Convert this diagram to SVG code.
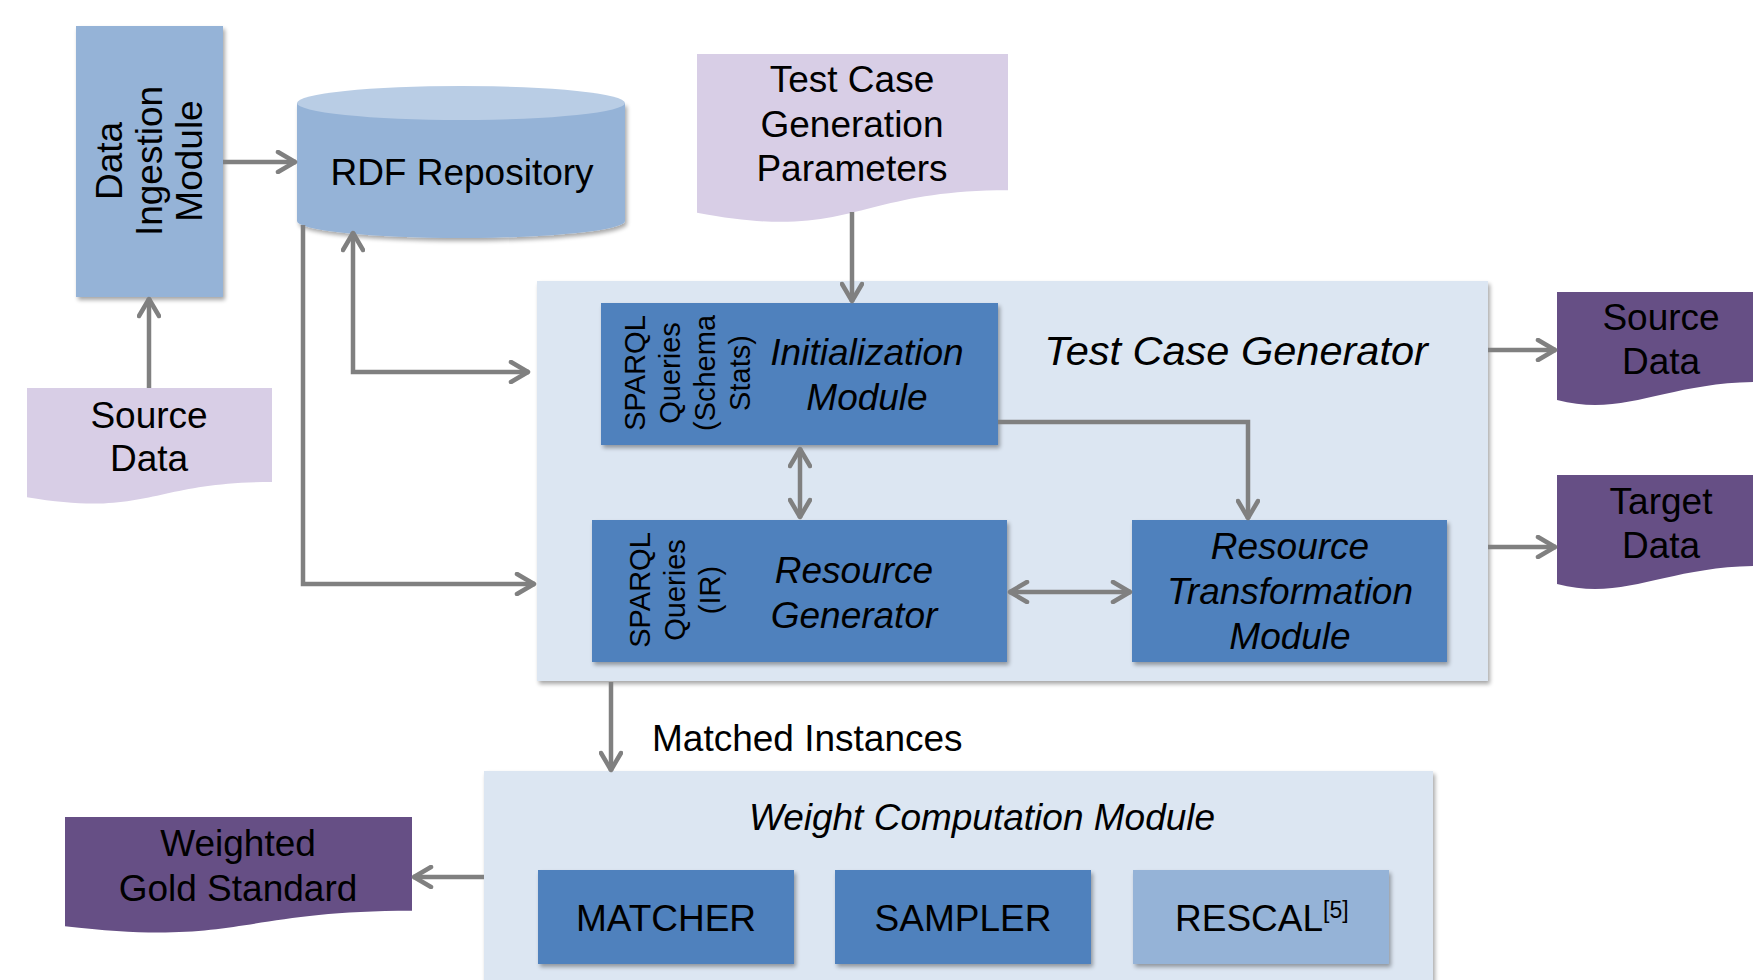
<svg xmlns="http://www.w3.org/2000/svg" width="1753" height="980" viewBox="0 0 1753 980">
  <style>
    text { font-family: "Liberation Sans", Arial, Helvetica, sans-serif; fill: #000; }
    .t37 { font-size: 37px; }
    .t29 { font-size: 29px; }
    .mid { text-anchor: middle; }
    .it { font-style: italic; }
    .lightblue { fill: #95B3D7; }
    .blue { fill: #4F81BD; }
    .panel { fill: #DCE6F2; }
    .lavender { fill: #D8CEE6; }
    .purple { fill: #664F85; }
    .conn { fill: none; stroke: #808080; stroke-width: 4.5; }
  </style>
  <defs>
    <filter id="shadow" x="-10%" y="-10%" width="125%" height="130%">
      <feGaussianBlur in="SourceAlpha" stdDeviation="2"/>
      <feOffset dx="2" dy="3" result="off"/>
      <feComponentTransfer><feFuncA type="linear" slope="0.35"/></feComponentTransfer>
      <feMerge><feMergeNode/><feMergeNode in="SourceGraphic"/></feMerge>
    </filter>
    <marker id="arr" viewBox="0 0 24 24" refX="22" refY="12" markerWidth="24" markerHeight="24" markerUnits="userSpaceOnUse" orient="auto-start-reverse">
      <path d="M4,2 L21,12 L4,22" fill="none" stroke="#808080" stroke-width="4.5" stroke-linecap="round" stroke-linejoin="round"/>
    </marker>
  </defs>

  <rect width="1753" height="980" fill="#FFFFFF"/>

  <!-- containers -->
  <g id="test-case-generator">
    <rect class="panel" x="537" y="281" width="951" height="400" filter="url(#shadow)"/>
    <text class="it mid" x="1236" y="365" font-size="41.5">Test Case Generator</text>
  </g>
  <g id="weight-computation-module">
    <rect class="panel" x="484" y="771" width="949" height="230" filter="url(#shadow)"/>
    <text class="t37 it mid" x="982" y="830">Weight Computation Module</text>
  </g>

  <!-- nodes -->
  <g id="data-ingestion-module">
    <rect class="lightblue" x="76" y="26" width="147" height="271" filter="url(#shadow)"/>
    <text class="t37 mid" transform="translate(121.5,161) rotate(-90)">Data</text>
    <text class="t37 mid" transform="translate(161.5,161) rotate(-90)">Ingestion</text>
    <text class="t37 mid" transform="translate(201.5,161) rotate(-90)">Module</text>
  </g>

  <g id="rdf-repository">
    <path class="lightblue" d="M297,103 L297,221 A164,17 0 0 0 625,221 L625,103 Z" filter="url(#shadow)"/>
    <ellipse cx="461" cy="103" rx="164" ry="17" fill="#B9CDE5"/>
    <text class="t37 mid" x="462" y="185">RDF Repository</text>
  </g>

  <g id="source-data-in">
    <path class="lavender" d="M27,388 H272 V482 C149.5,482 149.5,517.6 27,497.3 Z"/>
    <text class="t37 mid" x="149" y="428">Source</text>
    <text class="t37 mid" x="149" y="471">Data</text>
  </g>

  <g id="test-case-parameters">
    <path class="lavender" d="M697,54 H1008 V190.3 C852.5,190.3 852.5,242.3 697,212.8 Z"/>
    <text class="t37 mid" x="852" y="92">Test Case</text>
    <text class="t37 mid" x="852" y="137">Generation</text>
    <text class="t37 mid" x="852" y="181">Parameters</text>
  </g>

  <g id="initialization-module">
    <rect class="blue" x="601" y="303" width="397" height="142" filter="url(#shadow)"/>
    <text class="t29 mid" transform="translate(645,373) rotate(-90)">SPARQL</text>
    <text class="t29 mid" transform="translate(680,373) rotate(-90)">Queries</text>
    <text class="t29 mid" transform="translate(715,373) rotate(-90)">(Schema</text>
    <text class="t29 mid" transform="translate(750,373) rotate(-90)">Stats)</text>
    <text class="t37 it mid" x="867" y="365">Initialization</text>
    <text class="t37 it mid" x="867" y="410">Module</text>
  </g>

  <g id="resource-generator">
    <rect class="blue" x="592" y="520" width="415" height="142" filter="url(#shadow)"/>
    <text class="t29 mid" transform="translate(650,590) rotate(-90)">SPARQL</text>
    <text class="t29 mid" transform="translate(685,590) rotate(-90)">Queries</text>
    <text class="t29 mid" transform="translate(720,590) rotate(-90)">(IR)</text>
    <text class="t37 it mid" x="854" y="583">Resource</text>
    <text class="t37 it mid" x="854" y="628">Generator</text>
  </g>

  <g id="resource-transformation-module">
    <rect class="blue" x="1132" y="520" width="315" height="142" filter="url(#shadow)"/>
    <text class="t37 it mid" x="1290" y="559">Resource</text>
    <text class="t37 it mid" x="1290" y="604">Transformation</text>
    <text class="t37 it mid" x="1290" y="649">Module</text>
  </g>

  <g id="source-data-out">
    <path class="purple" d="M1557,292 H1760 V382 C1665,382 1625,418 1557,400 Z"/>
    <text class="t37 mid" x="1661" y="330">Source</text>
    <text class="t37 mid" x="1661" y="374">Data</text>
  </g>

  <g id="target-data-out">
    <path class="purple" d="M1557,475 H1760 V566 C1665,566 1625,602 1557,584 Z"/>
    <text class="t37 mid" x="1661" y="514">Target</text>
    <text class="t37 mid" x="1661" y="558">Data</text>
  </g>

  <g id="weighted-gold-standard">
    <path class="purple" d="M65,817 H412 V910.8 C238.5,910.8 238.5,946.6 65,926.3 Z"/>
    <text class="t37 mid" x="238" y="856">Weighted</text>
    <text class="t37 mid" x="238" y="901">Gold Standard</text>
  </g>

  <g id="matcher">
    <rect class="blue" x="538" y="870" width="256" height="94" filter="url(#shadow)"/>
    <text class="t37 mid" x="666" y="931">MATCHER</text>
  </g>

  <g id="sampler">
    <rect class="blue" x="835" y="870" width="256" height="94" filter="url(#shadow)"/>
    <text class="t37 mid" x="963" y="931">SAMPLER</text>
  </g>

  <g id="rescal">
    <rect class="lightblue" x="1133" y="870" width="256" height="94" filter="url(#shadow)"/>
    <text class="t37" x="1175" y="931">RESCAL<tspan font-size="23" dy="-13">[5]</tspan></text>
  </g>

  <g id="matched-instances-label">
    <text class="t37" x="652" y="751">Matched Instances</text>
  </g>

  <!-- connectors -->
  <g id="connectors">
    <path class="conn" d="M223,162 L296,162" marker-end="url(#arr)"/>
    <path class="conn" d="M149,388 L149,298" marker-end="url(#arr)"/>
    <path class="conn" d="M353,232 L353,372 L529,372" marker-start="url(#arr)" marker-end="url(#arr)"/>
    <path class="conn" d="M303,225 L303,584 L535,584" marker-end="url(#arr)"/>
    <path class="conn" d="M852,212 L852,302" marker-end="url(#arr)"/>
    <path class="conn" d="M998,422 L1248,422 L1248,519" marker-end="url(#arr)"/>
    <path class="conn" d="M800,448 L800,518" marker-start="url(#arr)" marker-end="url(#arr)"/>
    <path class="conn" d="M1009,592 L1131,592" marker-start="url(#arr)" marker-end="url(#arr)"/>
    <path class="conn" d="M1488,350 L1556,350" marker-end="url(#arr)"/>
    <path class="conn" d="M1488,547 L1556,547" marker-end="url(#arr)"/>
    <path class="conn" d="M611,682 L611,771" marker-end="url(#arr)"/>
    <path class="conn" d="M484,877 L413,877" marker-end="url(#arr)"/>
  </g>
</svg>
